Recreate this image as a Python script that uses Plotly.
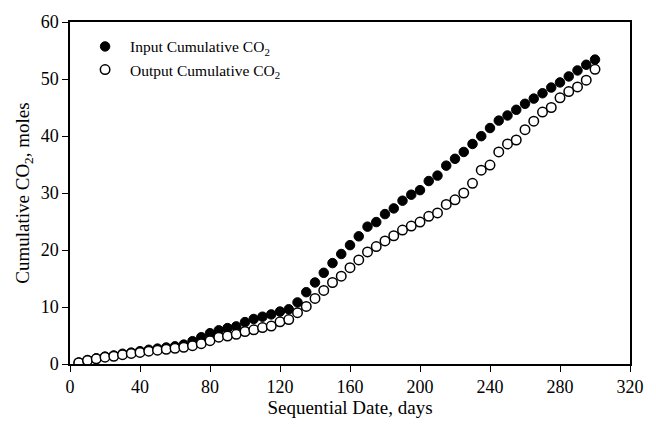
import plotly.graph_objects as go

days = [5 * k for k in range(1, 61)]

input_co2 = [0.25, 0.7, 1.0, 1.3, 1.5, 1.8, 2.0, 2.25, 2.5, 2.7,
             2.9, 3.1, 3.4, 4.0, 4.7, 5.4, 5.9, 6.3, 6.6, 7.35,
             7.9, 8.3, 8.7, 9.2, 9.6, 10.8, 12.6, 14.3, 16.0, 17.7,
             19.3, 20.85, 22.4, 24.1, 24.9, 26.3, 27.3, 28.65, 29.7, 30.5,
             32.1, 33.05, 34.8, 36.0, 37.2, 38.6, 39.97, 41.4, 42.7, 43.6,
             44.6, 45.65, 46.56, 47.5, 48.5, 49.4, 50.45, 51.5, 52.5, 53.4]

output_co2 = [0.22, 0.63, 0.9, 1.19, 1.36, 1.64, 1.86, 2.03, 2.25, 2.42,
              2.59, 2.76, 2.93, 3.22, 3.56, 4.1, 4.7, 4.9, 5.2, 5.7,
              6.0, 6.4, 6.65, 7.4, 7.8, 9.0, 10.1, 11.5, 12.9, 14.3,
              15.4, 16.9, 18.25, 19.66, 20.6, 21.6, 22.5, 23.5, 24.2, 24.9,
              25.9, 26.5, 28.0, 28.8, 30.0, 31.7, 34.0, 34.9, 37.2, 38.6,
              39.3, 41.1, 42.6, 44.2, 45.0, 46.7, 47.8, 48.6, 49.8, 51.7]

x_ticks = [0, 40, 80, 120, 160, 200, 240, 280, 320]
y_ticks = [0, 10, 20, 30, 40, 50, 60]

FONT = "Liberation Serif"

fig = go.Figure()
fig.add_trace(go.Scatter(
    x=days, y=input_co2, mode="markers", name="Input Cumulative CO<sub>2</sub>",
    marker=dict(symbol="circle", size=9.5, color="black", line=dict(color="black", width=1)),
))
fig.add_trace(go.Scatter(
    x=days, y=output_co2, mode="markers", name="Output Cumulative CO<sub>2</sub>",
    marker=dict(symbol="circle", size=9.5, color="white", line=dict(color="black", width=1.5)),
))

axis_common = dict(
    showgrid=False, zeroline=False, showline=True, linecolor="black", linewidth=1.5,
    mirror=True, ticks="outside", ticklen=6, tickwidth=1.2, tickcolor="black",
    tickfont=dict(family=FONT, size=18, color="black"),
)

fig.update_layout(
    width=656, height=427,
    margin=dict(l=70, r=21, t=18, b=55),
    paper_bgcolor="white", plot_bgcolor="white",
    font=dict(family=FONT, color="black"),
    showlegend=True,
    legend=dict(x=0.018, y=0.977, xanchor="left", yanchor="top",
                font=dict(family=FONT, size=15.5, color="black"),
                bgcolor="rgba(0,0,0,0)", tracegroupgap=0, itemwidth=40),
    xaxis=dict(range=[0, 320], tickvals=x_ticks,
               title=dict(text="Sequential Date, days", font=dict(family=FONT, size=19), standoff=4),
               **axis_common),
    yaxis=dict(range=[0, 60], tickvals=y_ticks,
               title=dict(text="Cumulative CO<sub>2</sub>, moles", font=dict(family=FONT, size=19), standoff=6),
               **axis_common),
)

fig.write_html("out.html")
